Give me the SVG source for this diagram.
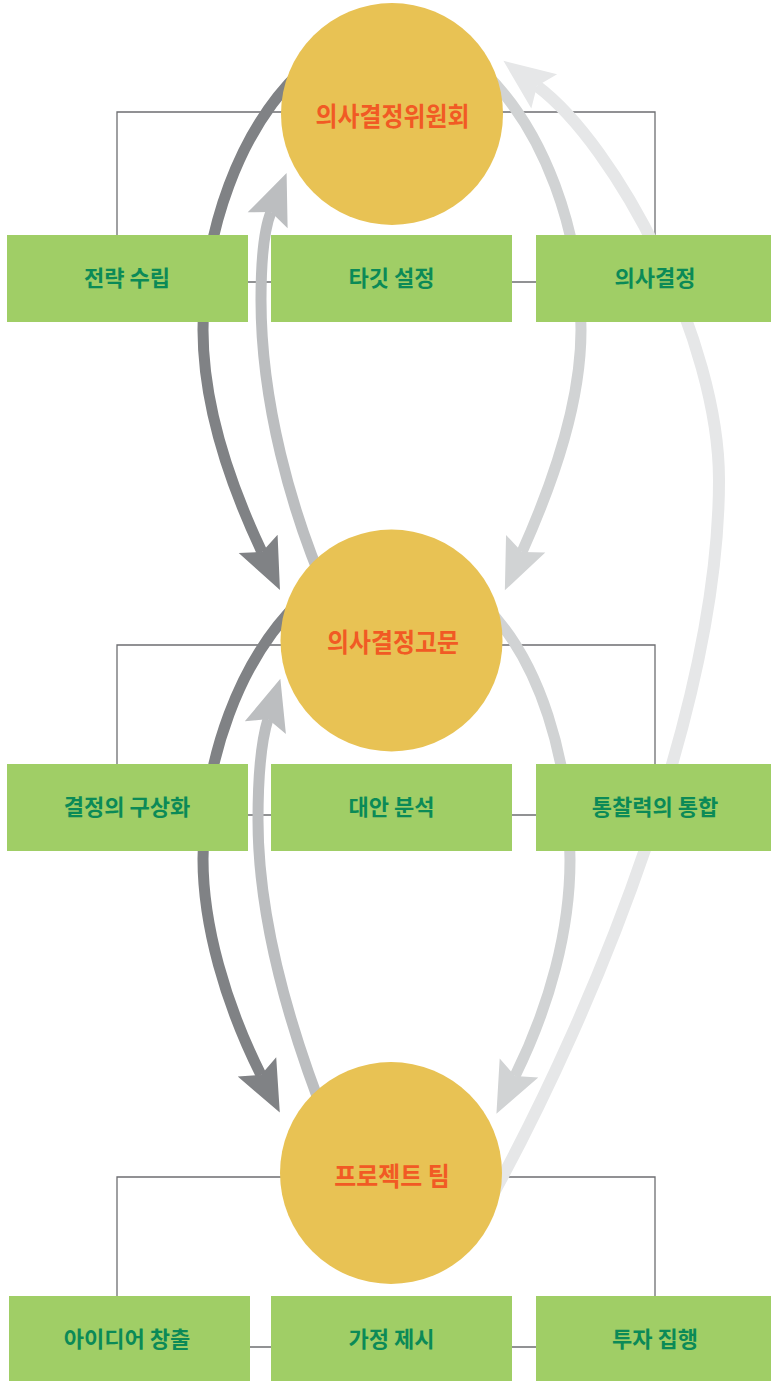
<svg xmlns="http://www.w3.org/2000/svg" width="771" height="1381" viewBox="0 0 771 1381">
<style>
.ln{fill:none;stroke:#6d6e71;stroke-width:1.3}
.box{fill:#a0ce66}
.btxt{font-family:"Noto Sans CJK KR","Noto Sans",sans-serif;font-weight:bold;font-size:22px;fill:#0b8a57;text-anchor:middle}
.circ{fill:#e8c254}
.ctxt{font-family:"Noto Sans CJK KR","Noto Sans",sans-serif;font-weight:bold;font-size:26px;fill:#f15a24;text-anchor:middle}
.arr{fill:none;stroke-linecap:butt}
.dark{stroke:#808285;stroke-width:11}
.med{stroke:#bcbec0;stroke-width:11}
.lite{stroke:#d1d3d4;stroke-width:11}
.vlite{stroke:#e6e7e8;stroke-width:12}
</style>
<defs>
<marker id="hDark" viewBox="-10 -22 53 44" markerWidth="53" markerHeight="44" refX="0" refY="0" orient="auto" markerUnits="userSpaceOnUse"><path d="M42,0 L-9,-21.5 L0,0 L-9,21.5 Z" fill="#808285"/></marker>
<marker id="hMed" viewBox="-10 -22 53 44" markerWidth="53" markerHeight="44" refX="0" refY="0" orient="auto" markerUnits="userSpaceOnUse"><path d="M42,0 L-9,-21.5 L0,0 L-9,21.5 Z" fill="#bcbec0"/></marker>
<marker id="hLite" viewBox="-10 -22 53 44" markerWidth="53" markerHeight="44" refX="0" refY="0" orient="auto" markerUnits="userSpaceOnUse"><path d="M42,0 L-9,-21.5 L0,0 L-9,21.5 Z" fill="#d1d3d4"/></marker>
<marker id="hVlite" viewBox="-10 -22 53 44" markerWidth="53" markerHeight="44" refX="0" refY="0" orient="auto" markerUnits="userSpaceOnUse"><path d="M42,0 L-9,-21.5 L0,0 L-9,21.5 Z" fill="#e6e7e8"/></marker>
</defs>
<g id="tree-lines">
<path class="ln" d="M117,235 V112 H655 V235"/>
<path class="ln" d="M240,282 H545"/>
<path class="ln" d="M117,764 V645 H655 V764"/>
<path class="ln" d="M240,815 H545"/>
<path class="ln" d="M117,1296 V1177 H655 V1296"/>
<path class="ln" d="M240,1347 H545"/>
</g>
<g id="connectors">
<path class="arr dark" marker-end="url(#hDark)" d="M300,72 C240,130 203,230 203,330 C203,400 227,478 262,552"/>
<path class="arr med" marker-end="url(#hMed)" d="M330,600 C290,510 261,400 261,300 C261,265 263,232 271,212"/>
<path class="arr lite" marker-end="url(#hLite)" d="M484,72 C544,130 581,230 581,330 C581,400 556,476 522,552"/>
<path class="arr vlite" marker-end="url(#hVlite)" d="M490,1200 C600,1000 719,700 719,480 C719,340 617,146 537,86"/>
<path class="arr dark" marker-end="url(#hDark)" d="M300,601 C240,659 203,759 203,859 C203,925 225,1003 261,1075"/>
<path class="arr med" marker-end="url(#hMed)" d="M330,1130 C290,1030 258,920 258,820 C258,780 260,745 268,719"/>
<path class="arr lite" marker-end="url(#hLite)" d="M484,605 C540,660 570,760 570,860 C570,930 550,1005 515,1076"/>
</g>
<g id="box-strategy"><rect class="box" x="7" y="235" width="241" height="87"/><text class="btxt" x="127" y="286">전략 수립</text></g>
<g id="box-target"><rect class="box" x="271" y="235" width="241" height="87"/><text class="btxt" x="391.5" y="286">타깃 설정</text></g>
<g id="box-decision"><rect class="box" x="536" y="235" width="235" height="87"/><text class="btxt" x="655" y="286">의사결정</text></g>
<g id="box-framing"><rect class="box" x="7" y="764" width="241" height="87"/><text class="btxt" x="127" y="815">결정의 구상화</text></g>
<g id="box-analysis"><rect class="box" x="271" y="764" width="241" height="87"/><text class="btxt" x="391.5" y="815">대안 분석</text></g>
<g id="box-insight"><rect class="box" x="536" y="764" width="235" height="87"/><text class="btxt" x="655" y="815">통찰력의 통합</text></g>
<g id="box-ideas"><rect class="box" x="9" y="1296" width="241" height="85"/><text class="btxt" x="127" y="1347">아이디어 창출</text></g>
<g id="box-assumption"><rect class="box" x="271" y="1296" width="241" height="85"/><text class="btxt" x="391.5" y="1347">가정 제시</text></g>
<g id="box-invest"><rect class="box" x="536" y="1296" width="235" height="85"/><text class="btxt" x="655" y="1347">투자 집행</text></g>
<g id="node-committee"><circle class="circ" cx="392" cy="114" r="111"/><text class="ctxt" transform="translate(392.5,126) scale(0.92,1)">의사결정위원회</text></g>
<g id="node-advisor"><circle class="circ" cx="391.5" cy="640.5" r="111"/><text class="ctxt" transform="translate(393,652) scale(0.92,1)">의사결정고문</text></g>
<g id="node-team"><circle class="circ" cx="391" cy="1173" r="111"/><text class="ctxt" transform="translate(392,1186) scale(0.92,1)">프로젝트 팀</text></g>
</svg>
